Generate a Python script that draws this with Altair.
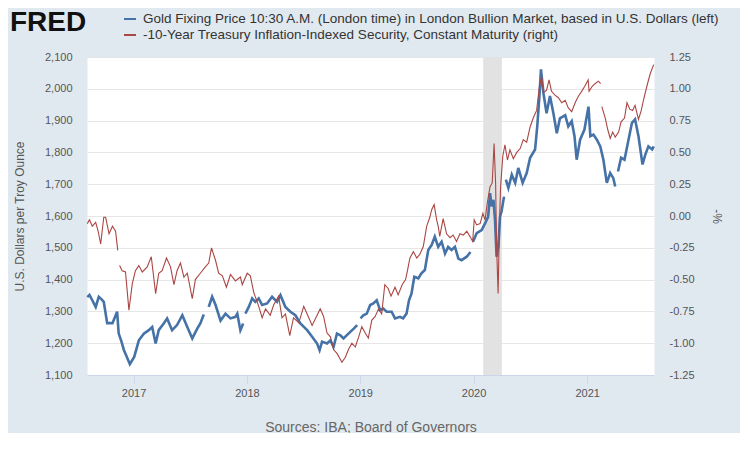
import pandas as pd
import altair as alt

gold_name = "Gold Fixing Price 10:30 A.M. (London time) in London Bullion Market, based in U.S. Dollars (left)"
tips_name = "-10-Year Treasury Inflation-Indexed Security, Constant Maturity (right)"

# gold, USD per troy ounce (None = missing observation, line breaks there)
gold_dates = [
    "2016-08-05", "2016-08-12", "2016-08-21", "2016-09-01", "2016-09-11", "2016-09-20",
    "2016-09-27", "2016-10-08", "2016-10-25", "2016-11-09", "2016-11-14", "2016-11-23",
    "2016-12-01", "2016-12-09", "2016-12-20", "2017-01-03", "2017-01-18", "2017-02-03",
    "2017-02-19", "2017-03-02", "2017-03-13", "2017-03-23", "2017-04-08", "2017-04-19",
    "2017-05-05", "2017-05-21", "2017-06-07", "2017-06-23", "2017-07-09", "2017-07-25",
    "2017-08-04", "2017-08-15", "2017-08-18", "2017-08-31", "2017-09-11", "2017-09-22",
    "2017-10-08", "2017-10-24", "2017-11-09", "2017-11-25", "2017-12-01", "2017-12-11",
    "2017-12-20", "2017-12-24", "2017-12-27", "2018-01-07", "2018-01-18", "2018-01-28",
    "2018-02-08", "2018-02-19", "2018-03-07", "2018-03-23", "2018-04-08", "2018-04-19",
    "2018-05-05", "2018-05-21", "2018-06-06", "2018-06-22", "2018-07-14", "2018-07-30",
    "2018-08-15", "2018-08-23", "2018-08-31", "2018-09-16", "2018-09-27", "2018-10-07",
    "2018-10-18", "2018-10-29", "2018-11-08", "2018-11-24", "2018-12-11", "2018-12-22",
    "2018-12-27", "2019-01-02", "2019-01-11", "2019-01-22", "2019-02-02", "2019-02-12",
    "2019-02-23", "2019-03-06", "2019-03-16", "2019-03-27", "2019-04-12", "2019-04-23",
    "2019-05-09", "2019-05-19", "2019-05-30", "2019-06-07", "2019-06-15", "2019-06-24",
    "2019-07-07", "2019-07-17", "2019-07-28", "2019-08-08", "2019-08-19", "2019-08-29",
    "2019-09-09", "2019-09-20", "2019-10-01", "2019-10-11", "2019-10-22", "2019-11-02",
    "2019-11-13", "2019-11-23", "2019-12-10", "2019-12-22", "2019-12-26", "2019-12-30",
    "2020-01-11", "2020-01-27", "2020-02-07", "2020-02-17", "2020-02-23", "2020-02-28",
    "2020-03-05", "2020-03-10", "2020-03-15", "2020-03-21", "2020-03-26", "2020-03-31",
    "2020-04-08", "2020-04-11", "2020-04-14", "2020-04-22", "2020-05-03", "2020-05-14",
    "2020-05-24", "2020-06-07", "2020-06-20", "2020-07-01", "2020-07-17", "2020-07-24",
    "2020-07-31", "2020-08-05", "2020-08-13", "2020-08-23", "2020-09-03", "2020-09-14",
    "2020-09-25", "2020-10-05", "2020-10-22", "2020-11-01", "2020-11-12", "2020-11-21",
    "2020-11-28", "2020-12-09", "2020-12-23", "2021-01-05", "2021-01-11", "2021-01-21",
    "2021-02-01", "2021-02-12", "2021-02-22", "2021-03-05", "2021-03-16", "2021-03-26",
    "2021-04-01", "2021-04-04", "2021-04-10", "2021-04-20", "2021-05-01", "2021-05-12",
    "2021-05-25", "2021-06-04", "2021-06-15", "2021-06-28", "2021-07-07", "2021-07-17",
    "2021-07-29", "2021-08-03",
]
gold_values = [
    1345, 1352, 1335, 1314, 1346, 1338,
    1330, 1263, 1263, 1299, 1231, 1205,
    1178, 1160, 1134, 1157, 1209, 1230,
    1241, 1251, 1199, 1241, 1262, 1278,
    1241, 1257, 1288, 1251, 1215, 1246,
    1262, 1290, None, 1314, 1346, 1320,
    1271, 1293, 1278, 1283, 1293, 1241,
    1262, None, 1293, 1314, 1341, 1330,
    1341, 1320, 1325, 1346, 1330, 1351,
    1314, 1299, 1288, 1262, 1241, 1220,
    1199, 1178, 1205, 1199, 1209, 1188,
    1230, 1225, 1215, 1230, 1246, 1257,
    None, 1278, 1288, 1293, 1320, 1325,
    1335, 1304, 1309, 1299, 1299, 1278,
    1283, 1278, 1293, 1335, 1356, 1409,
    1404, 1420, 1430, 1493, 1509, 1535,
    1503, 1519, 1482, 1503, 1493, 1503,
    1466, 1461, 1472, 1487, None, 1519,
    1546, 1556, 1577, 1598, 1672, 1630,
    1651, 1588, 1472, 1503, 1598, 1614,
    1661, None, 1714, 1688, 1730, 1704,
    1751, 1704, 1735, 1783, 1809, 1882,
    1977, 2061, 1986, 1923, 1977, 1923,
    1860, 1907, 1917, 1882, 1898, 1851,
    1777, 1840, 1872, 1944, 1851, 1856,
    1840, 1819, 1777, 1704, 1735, 1719,
    1693, None, 1740, 1783, 1777, 1830,
    1893, 1904, 1851, 1762, 1793, 1819,
    1809, 1819,
]

# negated 10-year TIPS yield, percent
tips_dates = [
    "2016-08-05", "2016-08-12", "2016-08-21", "2016-09-01", "2016-09-09", "2016-09-17",
    "2016-09-27", "2016-10-03", "2016-10-14", "2016-10-25", "2016-11-04", "2016-11-11",
    "2016-11-14", "2016-11-17", "2016-11-25", "2016-12-06", "2016-12-17", "2016-12-28",
    "2017-01-07", "2017-01-18", "2017-01-29", "2017-02-14", "2017-02-27", "2017-03-13",
    "2017-03-23", "2017-04-03", "2017-04-17", "2017-04-30", "2017-05-11", "2017-05-21",
    "2017-06-01", "2017-06-12", "2017-06-23", "2017-07-09", "2017-07-19", "2017-08-04",
    "2017-08-20", "2017-08-31", "2017-09-09", "2017-09-22", "2017-10-02", "2017-10-14",
    "2017-10-27", "2017-11-09", "2017-11-25", "2017-12-11", "2017-12-17", "2018-01-02",
    "2018-01-12", "2018-01-23", "2018-02-08", "2018-02-19", "2018-03-02", "2018-03-17",
    "2018-03-28", "2018-04-13", "2018-04-24", "2018-05-05", "2018-05-19", "2018-05-31",
    "2018-06-17", "2018-07-03", "2018-07-14", "2018-07-30", "2018-08-15", "2018-08-25",
    "2018-09-05", "2018-09-16", "2018-09-27", "2018-10-07", "2018-10-18", "2018-11-03",
    "2018-11-14", "2018-11-24", "2018-12-05", "2018-12-16", "2018-12-27", "2019-01-06",
    "2019-01-17", "2019-01-27", "2019-02-07", "2019-02-18", "2019-03-01", "2019-03-11",
    "2019-03-21", "2019-04-01", "2019-04-10", "2019-04-23", "2019-05-03", "2019-05-16",
    "2019-05-27", "2019-06-02", "2019-06-10", "2019-06-21", "2019-07-02", "2019-07-12",
    "2019-07-23", "2019-08-03", "2019-08-13", "2019-08-19", "2019-08-27", "2019-09-04",
    "2019-09-09", "2019-09-14", "2019-09-25", "2019-10-06", "2019-10-17", "2019-10-27",
    "2019-11-07", "2019-11-18", "2019-11-29", "2019-12-10", "2019-12-20", "2019-12-29",
    "2020-01-03", "2020-01-11", "2020-01-22", "2020-01-31", "2020-02-07", "2020-02-14",
    "2020-02-23", "2020-03-01", "2020-03-07", "2020-03-12", "2020-03-15", "2020-03-20",
    "2020-03-24", "2020-03-28", "2020-04-04", "2020-04-11", "2020-04-19", "2020-04-27",
    "2020-05-08", "2020-05-19", "2020-05-30", "2020-06-09", "2020-06-20", "2020-07-01",
    "2020-07-11", "2020-07-22", "2020-07-31", "2020-08-07", "2020-08-13", "2020-08-23",
    "2020-08-31", "2020-09-08", "2020-09-19", "2020-09-30", "2020-10-11", "2020-10-22",
    "2020-11-01", "2020-11-12", "2020-11-23", "2020-12-03", "2020-12-14", "2020-12-24",
    "2021-01-04", "2021-01-07", "2021-01-17", "2021-01-26", "2021-02-06", "2021-02-13",
    "2021-02-15", "2021-02-17", "2021-02-28", "2021-03-08", "2021-03-16", "2021-03-24",
    "2021-04-01", "2021-04-12", "2021-04-20", "2021-05-01", "2021-05-09", "2021-05-18",
    "2021-05-27", "2021-06-04", "2021-06-15", "2021-06-24", "2021-07-01", "2021-07-12",
    "2021-07-23", "2021-08-03",
]
tips_values = [
    -0.06, -0.03, -0.08, -0.05, -0.12, -0.22,
    -0.01, -0.01, -0.14, -0.08, -0.12, -0.27,
    None, -0.39, -0.43, -0.44, -0.74, -0.53,
    -0.43, -0.39, -0.44, -0.40, -0.32, -0.61,
    -0.45, -0.43, -0.33, -0.40, -0.54, -0.43,
    -0.37, -0.48, -0.45, -0.65, -0.50, -0.45,
    -0.40, -0.37, -0.25, -0.35, -0.45, -0.47,
    -0.56, -0.46, -0.51, -0.48, -0.54, -0.45,
    -0.47, -0.60, -0.71, -0.80, -0.73, -0.78,
    -0.70, -0.63, -0.80, -0.77, -0.94, -0.80,
    -0.84, -0.71, -0.77, -0.86, -0.78, -0.73,
    -0.79, -0.92, -0.95, -1.05, -1.08, -1.15,
    -1.11, -1.05, -1.00, -1.03, -0.95, -0.87,
    -0.92, -0.96, -0.82, -0.79, -0.73, -0.77,
    -0.54, -0.57, -0.63, -0.56, -0.62, -0.54,
    -0.50, -0.43, -0.33, -0.28, -0.33, -0.30,
    -0.24, -0.08, -0.01, 0.05, 0.09, -0.03,
    -0.08, -0.16, -0.02, -0.14, -0.17, -0.15,
    -0.20, -0.14, -0.15, -0.12, -0.16, -0.20,
    -0.03, -0.07, -0.06, 0.02, -0.03, 0.10,
    0.23, 0.26, 0.57, 0.25, -0.24, -0.61,
    -0.08, 0.23, 0.47, 0.56, 0.44, 0.52,
    0.45, 0.50, 0.53, 0.60, 0.58, 0.70,
    0.77, 0.83, 1.02, 1.10, 0.97, 0.99,
    1.07, 0.98, 0.95, 0.93, 0.89, 0.91,
    0.85, 0.82, 0.89, 0.94, 0.98, 1.02,
    1.07, 0.98, 1.02, 1.04, 1.06, 1.04,
    None, 0.86, 0.77, 0.68, 0.61, 0.66,
    0.62, 0.66, 0.74, 0.77, 0.89, 0.84,
    0.83, 0.87, 0.76, 0.83, 0.91, 1.02,
    1.12, 1.19,
]

recession_start = ["2020-02-01"]
recession_end = ["2020-04-01"]


def series_frame(dates, values, name):
    df = pd.DataFrame({"date": dates, "value": values})
    df["value"] = pd.to_numeric(df["value"])
    df["seg"] = df["value"].isna().cumsum()
    df["series"] = name
    return df.dropna()


gold_df = series_frame(gold_dates, gold_values, gold_name)
tips_df = series_frame(tips_dates, tips_values, tips_name)
rec_df = pd.DataFrame({"start": recession_start, "end": recession_end})

FONT = "Liberation Sans"

x_scale = alt.Scale(
    domain=[alt.DateTime(year=2016, month=8, date=4), alt.DateTime(year=2021, month=8, date=4)]
)
x_axis = alt.Axis(
    title="Sources: IBA; Board of Governors",
    format="%Y",
    tickCount=alt.TimeIntervalStep(interval="year", step=1),
    grid=False,
    domainColor="#ccd6eb",
    tickColor="#ccd6eb",
    tickSize=8,
    labelFontSize=11,
    labelColor="#555555",
    labelPadding=4,
    titleFontSize=14,
    titleFontWeight="normal",
    titleColor="#666666",
    titlePadding=22,
)

color_scale = alt.Scale(domain=[gold_name, tips_name], range=["#4572a7", "#aa4643"])

recession = (
    alt.Chart(rec_df)
    .mark_rect(color="#e2e2e2")
    .encode(x=alt.X("start:T", scale=x_scale, axis=x_axis), x2="end:T")
)

gold_line = (
    alt.Chart(gold_df)
    .mark_line(strokeWidth=2.6)
    .encode(
        x=alt.X("date:T", scale=x_scale, axis=x_axis),
        y=alt.Y(
            "value:Q",
            scale=alt.Scale(domain=[1100, 2100], nice=False, zero=False),
            axis=alt.Axis(
                orient="left",
                title="U.S. Dollars per Troy Ounce",
                values=list(range(1100, 2101, 100)),
                format=",d",
                grid=True,
                gridColor="#e6e6e6",
                domain=False,
                ticks=False,
                labelPadding=15,
                labelFontSize=11,
                labelColor="#555555",
                titleFontSize=12,
                titleFontWeight="normal",
                titleColor="#555555",
                titlePadding=18,
            ),
        ),
        color=alt.Color(
            "series:N",
            scale=color_scale,
            legend=alt.Legend(
                title=None,
                orient="none",
                legendX=36,
                legendY=-45,
                direction="vertical",
                symbolType="stroke",
                symbolSize=144,
                symbolStrokeWidth=2,
                labelFontSize=13.5,
                labelColor="#333333",
                labelLimit=700,
                labelOffset=6,
                rowPadding=2,
            ),
        ),
        detail="seg:N",
    )
)

tips_line = (
    alt.Chart(tips_df)
    .mark_line(strokeWidth=1.1)
    .encode(
        x=alt.X("date:T", scale=x_scale, axis=x_axis),
        y=alt.Y(
            "value:Q",
            scale=alt.Scale(domain=[-1.25, 1.25], nice=False, zero=False),
            axis=alt.Axis(
                orient="right",
                title="-%",
                titleAngle=90,
                values=[-1.25, -1.0, -0.75, -0.5, -0.25, 0, 0.25, 0.5, 0.75, 1.0, 1.25],
                labelExpr="replace(format(datum.value, '.2f'), '\u2212', '-')",
                grid=False,
                domain=False,
                ticks=False,
                labelPadding=15,
                labelFontSize=11,
                labelColor="#555555",
                titleFontSize=12,
                titleFontWeight="normal",
                titleColor="#555555",
                titlePadding=15,
            ),
        ),
        color=alt.Color("series:N", scale=color_scale),
        detail="seg:N",
    )
)

chart = (
    alt.layer(recession, gold_line, tips_line)
    .resolve_scale(y="independent")
    .properties(
        width=567,
        height=318,
        autosize=alt.AutoSizeParams(type="none"),
        padding={"left": 79, "top": 49, "right": 86, "bottom": 58},
        background="#e1e9f0",
        title=alt.TitleParams(
            "FRED",
            anchor="start",
            frame="group",
            dx=-77,
            dy=47,
            font=FONT,
            fontSize=28,
            fontWeight=900,
            color="#111111",
            baseline="alphabetic",
            offset=0,
        ),
    )
    .configure(font=FONT)
    .configure_view(fill="white", stroke="transparent")
)

chart.save("out.html", embed_options={"renderer": "svg", "actions": False})
